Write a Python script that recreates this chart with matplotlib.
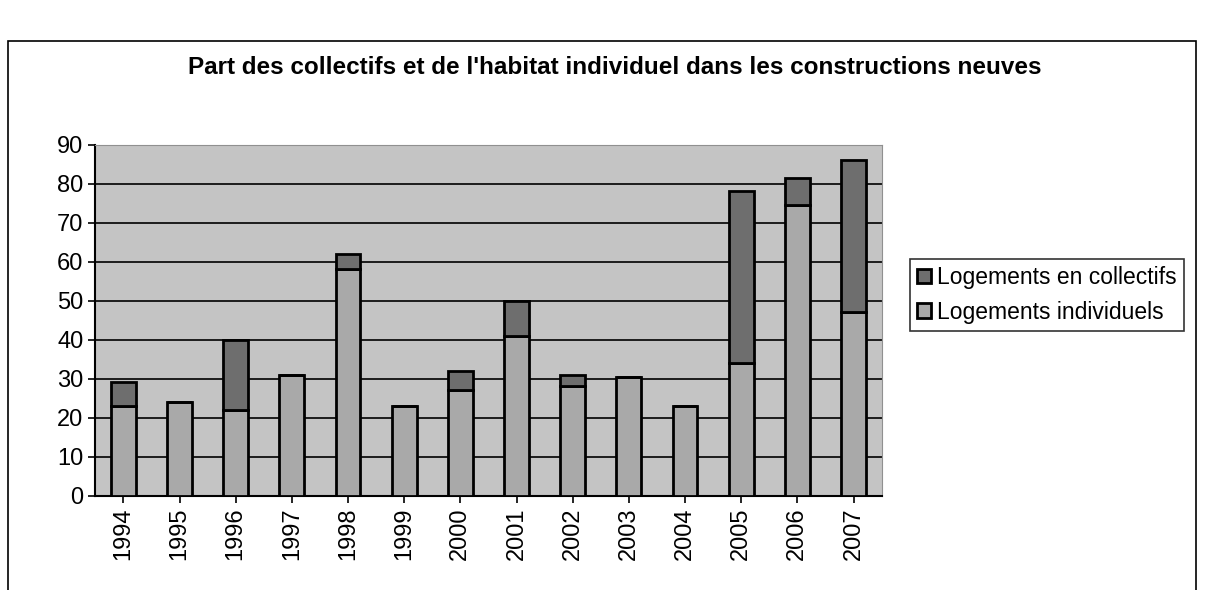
import matplotlib.pyplot as plt
from matplotlib.patches import Rectangle
import numpy as np

plt.rcParams['font.family'] = ['Liberation Sans', 'DejaVu Sans']

# --- Data ---
years = ['1994', '1995', '1996', '1997', '1998', '1999', '2000',
         '2001', '2002', '2003', '2004', '2005', '2006', '2007']
individuels = [23, 24, 22, 31, 58, 23, 27, 41, 28, 30.5, 23, 34, 74.5, 47]
collectifs = [6, 0, 18, 0, 4, 0, 5, 9, 3, 0, 0, 44, 7, 39]

# --- Figure ---
fig = plt.figure(figsize=(12.06, 5.90), dpi=100)
fig.patch.set_facecolor('white')

# outer chart frame
fig.patches.append(Rectangle((0.007, -0.02), 0.985, 0.95, transform=fig.transFigure,
                             fill=False, edgecolor='black', linewidth=1.2))

ax = fig.add_axes([0.079, 0.16, 0.652, 0.595])
ax.set_facecolor('#c4c4c4')

x = np.arange(len(years))
ax.bar(x, individuels, width=0.44, color='#a9a9a9', edgecolor='black', linewidth=2,
       label='Logements individuels', zorder=3)
ax.bar(x, collectifs, width=0.44, bottom=individuels, color='#6e6e6e', edgecolor='black',
       linewidth=2, label='Logements en collectifs', zorder=3)

ax.set_ylim(0, 90)
ax.set_xlim(-0.5, len(years) - 0.5)
ax.set_yticks(range(0, 91, 10))
ax.yaxis.grid(True, color='black', linewidth=1.2, zorder=1)
ax.set_axisbelow(True)
ax.set_xticks(x)
ax.set_xticklabels(years, rotation=90, fontsize=17)
ax.tick_params(axis='y', labelsize=17, length=5, width=1.2)
ax.tick_params(axis='x', length=5, width=1.2)
for side in ['top', 'right']:
    ax.spines[side].set_color('#909090')
for side in ['left', 'bottom']:
    ax.spines[side].set_linewidth(1.5)

fig.text(0.51, 0.885, "Part des collectifs et de l'habitat individuel dans les constructions neuves",
         ha='center', va='center', fontsize=17.5, fontweight='bold')

handles, labels = ax.get_legend_handles_labels()
leg = fig.legend(handles[::-1], labels[::-1], loc='center left', bbox_to_anchor=(0.745, 0.5),
                 fontsize=16.5, frameon=True, fancybox=False, edgecolor='black',
                 handlelength=0.6, handleheight=0.6, handletextpad=0.3, borderpad=0.3,
                 labelspacing=0.5)
leg.get_frame().set_linewidth(1.2)

fig.savefig('out.png', dpi=100)
